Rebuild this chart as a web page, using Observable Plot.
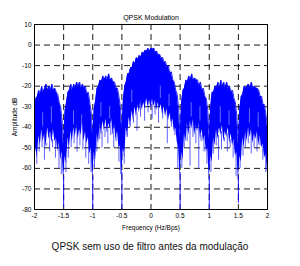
<!DOCTYPE html>
<html>
<head>
<meta charset="utf-8">
<script src="https://cdn.jsdelivr.net/npm/d3@7"></script>
<script src="https://cdn.jsdelivr.net/npm/@observablehq/plot@0.6"></script>
<style>
  html, body { margin: 0; padding: 0; background: white; }
  #chart svg { display: block; }
  #caption { font-family: "Liberation Sans", Arial, sans-serif; font-size: 10px; text-align: center; width: 300px; padding-top: 9px; line-height: 12px; color: #111; }
</style>
</head>
<body>
<div id="chart"></div>
<div id="caption">QPSK sem uso de filtro antes da modulação</div>
<script>
// Frequency samples: -2 .. 2, step 0.025 (161 points)
const freqStart = -2, freqStep = 0.025;

// Upper (jagged) envelope of the spectrum (dB)
const upper = [
  -33,-26,-25,-22,-24,-20,-23,-21,-19,-22,-20,-22,-19,-22,-21,-23,-24,-28,-30,-37,-50,
  -32,-28,-23,-22,-19,-22,-19,-21,-18,-20,-18,-21,-19,-21,-20,-24,-23,-28,-33,-45,
  -31,-27,-21,-20,-17,-18,-15,-17,-15,-17,-14,-17,-16,-18,-18,-21,-21,-25,-30,-42,
  -27,-20,-18,-14,-14,-11,-11,-8,-9,-6,-7,-5,-6,-3.5,-4,-2.5,-3,-1.5,-3,-1.5,
  -2,-1.5,-3.5,-3,-5,-4.5,-6.5,-6,-8.5,-8,-11,-10,-14,-13,-17,-18,-22,-24,-31,-45,
  -28,-22,-21,-17,-18,-15,-17,-14,-17,-16,-17,-17,-20,-18,-22,-21,-25,-26,-32,-46,
  -30,-23,-23,-20,-21,-18,-21,-17,-20,-18,-21,-18,-21,-20,-23,-22,-26,-28,-35,-48,
  -31,-25,-24,-20,-21,-20,-19,-21,-18,-21,-20,-21,-21,-22,-25,-25,-29,-29,-34,-40
];

// Lower (ragged) edge of the dense noise mass (dB)
const lower = [
  -60,-50,-55,-44,-49,-41,-47,-43,-50,-40,-46,-42,-48,-41,-47,-45,-52,-47,-56,-52,-66,
  -54,-58,-45,-50,-42,-47,-40,-45,-39,-46,-41,-44,-38,-47,-42,-48,-45,-53,-50,-66,
  -52,-56,-43,-48,-38,-44,-37,-42,-36,-43,-38,-41,-36,-44,-39,-46,-42,-50,-49,-64,
  -50,-55,-40,-45,-35,-40,-32,-37,-30,-35,-29,-33,-27,-32,-28,-31,-26,-30,-27,-31,
  -26,-30,-27,-32,-28,-31,-29,-34,-30,-35,-31,-37,-33,-38,-36,-42,-40,-47,-50,-64,
  -52,-56,-43,-47,-38,-44,-37,-41,-36,-44,-39,-42,-38,-46,-41,-47,-44,-52,-50,-66,
  -54,-57,-45,-49,-41,-46,-40,-44,-39,-47,-42,-45,-40,-48,-43,-49,-46,-54,-52,-66,
  -54,-57,-45,-50,-42,-47,-40,-45,-41,-48,-43,-46,-42,-49,-44,-50,-48,-55,-53,-62
];

// Downward noise spikes: frequency and depth (dB)
const spikeF = [-1.96,-1.92,-1.87,-1.83,-1.79,-1.74,-1.69,-1.64,-1.58,-1.54,
  -1.46,-1.42,-1.37,-1.32,-1.27,-1.22,-1.17,-1.12,-1.07,-1.03,
  -0.97,-0.93,-0.88,-0.84,-0.79,-0.74,-0.69,-0.64,-0.6,-0.55,-0.52,
  -0.46,-0.41,-0.36,-0.3,-0.24,-0.18,-0.11,-0.05,0.02,0.07,0.13,0.2,0.28,0.35,0.41,0.46,
  0.53,0.57,0.62,0.67,0.72,0.77,0.82,0.86,0.91,0.96,
  1.03,1.07,1.12,1.16,1.21,1.26,1.31,1.36,1.41,1.46,
  1.53,1.58,1.62,1.67,1.72,1.77,1.82,1.87,1.92,1.97];
const spikeY = [-58,-52,-50,-56,-49,-52,-50,-55,-60,-63,
  -62,-55,-50,-48,-52,-49,-51,-55,-58,-62,
  -60,-52,-46,-50,-45,-48,-44,-50,-47,-57,-63,
  -58,-45,-40,-38,-42,-35,-37,-33,-36,-34,-38,-36,-48,-40,-44,-60,
  -60,-50,-47,-59,-45,-48,-60,-47,-52,-58,
  -62,-53,-49,-56,-51,-47,-52,-50,-55,-64,
  -60,-54,-50,-48,-53,-50,-52,-49,-56,-62];

// Small white gaps inside the noise mass
const gapF  = [-1.86,-1.71,-1.33,-1.19,-0.86,-0.71,-0.33,0.16,0.31,0.69,0.84,1.19,1.34,1.69,1.84];
const gapY1 = [-33,-30,-32,-34,-28,-30,-22,-20,-24,-28,-30,-30,-32,-31,-33];
const gapY2 = [-40,-38,-39,-41,-35,-36,-28,-26,-30,-35,-37,-38,-39,-38,-40];

// Deep nulls reaching the bottom
const nullF = [-2, -1.5, -1, -0.5, 0.5, 1, 1.5, 2];
const nullY = [-64, -79, -80, -80, -80, -80, -77, -72];

const xTicks = [-2, -1.5, -1, -0.5, 0, 0.5, 1, 1.5, 2];
const yTicks = [10, 0, -10, -20, -30, -40, -50, -60, -70, -80];
const xGrid = [-1.5, -1, -0.5, 0, 0.5, 1, 1.5];
const yGrid = [0, -10, -20, -30, -40, -50, -60, -70];

const rows = upper.map((u, i) => ({f: freqStart + i * freqStep, hi: u, lo: lower[i]}));
const idx = f => Math.max(0, Math.min(160, Math.round((f - freqStart) / freqStep)));
const spikes = spikeF.map((f, i) => ({f, y1: spikeY[i], y2: lower[idx(f)] + 2}));
const gaps = gapF.map((f, i) => ({f, y1: gapY1[i], y2: gapY2[i]}));
const nulls = nullF.map((f, i) => ({f, y1: nullY[i], y2: lower[idx(f)] + 2}));

const blue = "#0000ff";
const chart = Plot.plot({
  width: 300, height: 232,
  marginLeft: 34, marginRight: 33, marginTop: 24, marginBottom: 23,
  x: {domain: [-2, 2]},
  y: {domain: [-80, 10]},
  style: {fontFamily: "'Liberation Sans', Arial, sans-serif", fontSize: "6.5px", background: "white", color: "black"},
  marks: [
    Plot.gridX(xGrid, {stroke: "black", strokeOpacity: 1, strokeWidth: 0.9, strokeDasharray: "6,4"}),
    Plot.gridY(yGrid, {stroke: "black", strokeOpacity: 1, strokeWidth: 0.9, strokeDasharray: "6,4"}),
    Plot.areaY(rows, {x: "f", y1: "lo", y2: "hi", fill: blue}),
    Plot.line(rows, {x: "f", y: "hi", stroke: blue, strokeWidth: 0.8}),
    Plot.ruleX(gaps, {x: "f", y1: "y1", y2: "y2", stroke: "white", strokeWidth: 0.6, strokeOpacity: 0.7}),
    Plot.ruleX(spikes, {x: "f", y1: "y1", y2: "y2", stroke: blue, strokeWidth: 0.8, strokeOpacity: 0.8}),
    Plot.ruleX(nulls, {x: "f", y1: "y1", y2: "y2", stroke: blue, strokeWidth: 0.9}),
    Plot.frame({stroke: "black", strokeWidth: 1}),
    Plot.axisX(xTicks, {tickSize: 0, tickPadding: 4, tickFormat: d => String(d), label: "Frequency (Hz/Bps)", labelAnchor: "center", labelArrow: "none", labelOffset: 20}),
    Plot.axisY(yTicks, {tickSize: 0, tickPadding: 3, tickFormat: d => String(d), label: "Amplitude dB", labelAnchor: "center", labelArrow: "none", labelOffset: 22}),
    Plot.text(["QPSK Modulation"], {frameAnchor: "top", dy: -9, fontSize: 7})
  ]
});
document.getElementById("chart").appendChild(chart);
</script>
</body>
</html>
